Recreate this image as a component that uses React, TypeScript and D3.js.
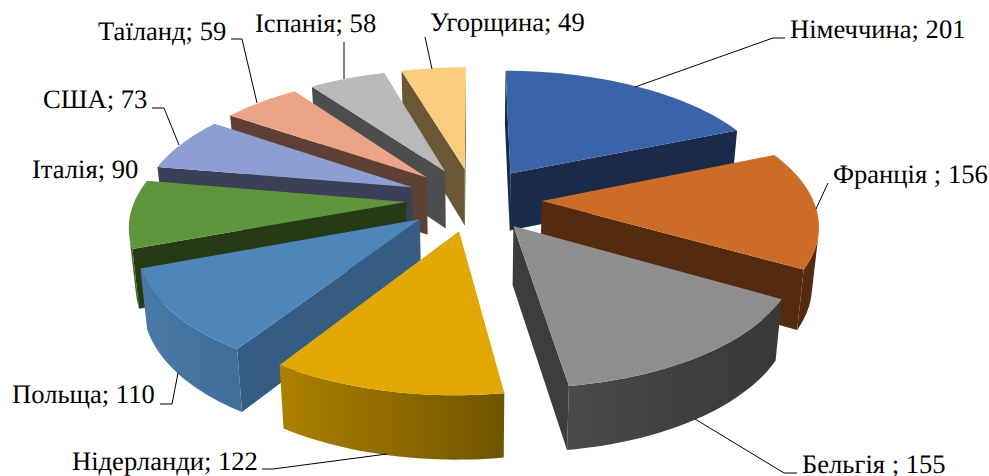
import React from "react";
import * as d3 from "d3";

const categories = ["Німеччина", "Франція ", "Бельгія ", "Нідерланди", "Польща", "Італія", "США", "Таїланд", "Іспанія", "Угорщина"];
const values = [201, 156, 155, 122, 110, 90, 73, 59, 58, 49];

const topColors = ["#3A64AA", "#CD6C27", "#8E8E8E", "#E0A800", "#4C86BA", "#5F963B", "#8C9ED2", "#ECA487", "#B9B9B9", "#FBCE7F"];
const faceColors = ["#1A2B4A", "#542B0F", "#3D3D3D", "#7A5D00", "#355C82", "#263A16", "#3A4056", "#5F4034", "#4D4D4D", "#6B5635"];
const stripStart = ["#1A2B4A", "#542B0F", "#383838", "#6F5500", "#3F6E9A", "#3F6A25", "#3A4056", "#5F4034", "#4D4D4D", "#6B5635"];
const stripEnd = ["#1A2B4A", "#542B0F", "#4A4A4A", "#AD8000", "#4A7BA8", "#3F6A25", "#3A4056", "#5F4034", "#4D4D4D", "#6B5635"];

const labelX = [790, 833, 802, 72, 12, 32, 43, 98, 255, 430];
const labelY = [38, 183, 473, 470, 403, 178, 108, 40, 32, 31];
const leaders: [number, number][][] = [
  [[635, 87], [773, 38], [785, 38]],
  [[816, 209], [828, 183]],
  [[695, 419], [784, 473], [797, 473]],
  [[387, 454], [273, 469], [262, 469]],
  [[178, 373], [172, 404], [160, 404]],
  [],
  [[179, 145], [164, 108], [152, 108]],
  [[257, 103], [242, 39], [231, 39]],
  [[344, 79], [344, 42]],
  [[432, 69], [425, 37]],
];

const W = 989, H = 476;
const cx = 474, cy = 199, fx = 271, fy = 126.5, persp = 0.159, explode = 0.25;
const depth = 58, depthPersp = 0.08, bottomScale = 0.98;

type P = [number, number];
type G = { X: number; Y: number };

const top = ({ X, Y }: G): P => {
  const k = 1 + persp * Y;
  return [cx + (fx * X) / k, cy - (fy * Y) / k];
};
const bottom = (g: G): P => {
  const [x, y] = top(g);
  return [cx + bottomScale * (x - cx), y + depth / (1 + depthPersp * g.Y)];
};
// screen-space winding: positive when the vertices run clockwise on screen
const winding = (pts: P[]) => -d3.polygonArea(pts);
const line = d3.line<P>().x((d) => d[0]).y((d) => d[1]);
const closed = (pts: P[]) => line(pts) + "Z";

const arcs = d3.pie<number>().sort(null).startAngle(0).endAngle(2 * Math.PI)(values);

type Part = { d: string; fill: string; key: string };

const slices = arcs.map((a, i) => {
  const mid = (a.startAngle + a.endAngle) / 2;
  const ox = explode * Math.sin(mid);
  const oy = explode * Math.cos(mid);
  const at = (t: number): G => ({ X: ox + Math.sin(t), Y: oy + Math.cos(t) });
  const apex: G = { X: ox, Y: oy };
  const n = Math.max(8, Math.round((a.endAngle - a.startAngle) * 40));
  const ts = d3.range(n + 1).map((j) => a.startAngle + ((a.endAngle - a.startAngle) * j) / n);
  const rim = ts.map(at);
  const parts: Part[] = [];

  const startQuad: P[] = [top(apex), top(rim[0]), bottom(rim[0]), bottom(apex)];
  const endQuad: P[] = [top(apex), top(rim[n]), bottom(rim[n]), bottom(apex)];
  if (winding(startQuad) < 0) parts.push({ d: closed(startQuad), fill: faceColors[i], key: "s" });
  if (winding(endQuad) > 0) parts.push({ d: closed(endQuad), fill: faceColors[i], key: "e" });

  const shown = d3.range(n).filter((j) => winding([top(rim[j]), top(rim[j + 1]), bottom(rim[j + 1]), bottom(rim[j])]) < 0);
  let grad: { id: string; x1: number; x2: number } | null = null;
  if (shown.length) {
    const run = rim.slice(shown[0], shown[shown.length - 1] + 2);
    const outline = [...run.map(top), ...run.slice().reverse().map(bottom)];
    grad = { id: `strip${i}`, x1: top(run[0])[0], x2: top(run[run.length - 1])[0] };
    parts.push({ d: closed(outline), fill: `url(#${grad.id})`, key: "r" });
  }
  const surface = [top(apex), ...rim.map(top)];
  return { i, depthKey: oy, parts, grad, surface: closed(surface) };
});

const order = d3.range(slices.length).sort((a, b) => d3.descending(slices[a].depthKey, slices[b].depthKey));

export default function App() {
  return (
    <svg width={W} height={H} viewBox={`0 0 ${W} ${H}`} style={{ position: "absolute", left: 0, top: 0, background: "#fff" }}>
      <defs>
        {slices.map((s) =>
          s.grad ? (
            <linearGradient key={s.grad.id} id={s.grad.id} gradientUnits="userSpaceOnUse" x1={s.grad.x1} x2={s.grad.x2} y1={0} y2={0}>
              <stop offset="0" stopColor={stripStart[s.i]} />
              <stop offset="1" stopColor={stripEnd[s.i]} />
            </linearGradient>
          ) : null
        )}
      </defs>
      {order.map((k) => {
        const s = slices[k];
        return (
          <g key={k}>
            {s.parts.map((p) => (
              <path key={p.key} d={p.d} fill={p.fill} />
            ))}
            <path d={s.surface} fill={topColors[s.i]} />
          </g>
        );
      })}
      {leaders.map((l, i) =>
        l.length ? <path key={i} d={line(l) as string} fill="none" stroke="#000" strokeWidth={1} /> : null
      )}
      {categories.map((c, i) => (
        <text key={c} x={labelX[i]} y={labelY[i]} fontFamily="'Liberation Serif', 'Times New Roman', serif" fontSize={26.6} fill="#000" textRendering="geometricPrecision" style={{ whiteSpace: "pre" }}>
          {`${c}; ${values[i]}`}
        </text>
      ))}
    </svg>
  );
}
